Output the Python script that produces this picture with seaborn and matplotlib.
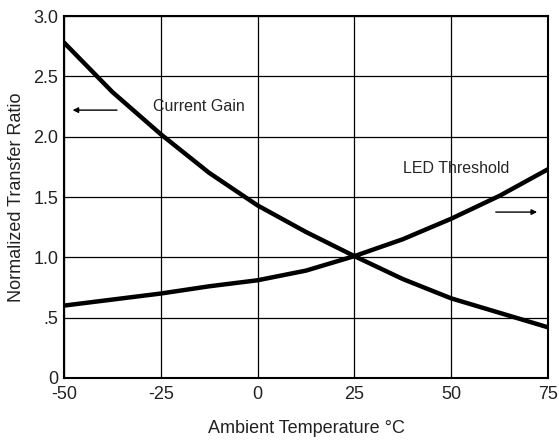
import matplotlib
matplotlib.use("Agg")
import matplotlib.pyplot as plt
import seaborn as sns
import pandas as pd

temps = [-50, -37.5, -25, -12.5, 0, 12.5, 25, 37.5, 50, 62.5, 75]
current_gain = [2.78, 2.37, 2.02, 1.70, 1.43, 1.21, 1.01, 0.82, 0.66, 0.54, 0.42]
led_threshold = [0.60, 0.65, 0.70, 0.76, 0.81, 0.89, 1.01, 1.15, 1.32, 1.51, 1.73]
x_ticks = [-50, -25, 0, 25, 50, 75]
y_ticks = [0, 0.5, 1.0, 1.5, 2.0, 2.5, 3.0]
y_labels = ["0", ".5", "1.0", "1.5", "2.0", "2.5", "3.0"]

sns.set_style("white")
plt.rcParams["font.family"] = ["Liberation Sans", "DejaVu Sans"]

df = pd.DataFrame({
    "temp": temps * 2,
    "ratio": current_gain + led_threshold,
    "series": ["Current Gain"] * len(temps) + ["LED Threshold"] * len(temps),
})

fig = plt.figure(figsize=(5.59, 4.44), dpi=100)
ax = fig.add_axes([64 / 559, 1 - 378 / 444, (548 - 64) / 559, (378 - 16) / 444])

sns.lineplot(data=df, x="temp", y="ratio", hue="series", palette=["black", "black"],
             linewidth=3.2, legend=False, ax=ax, estimator=None)
for ln in ax.get_lines():
    ln.set_solid_joinstyle("round")

ax.set_xlim(-50, 75)
ax.set_ylim(0, 3.0)
ax.set_xticks(x_ticks)
ax.set_xticklabels([str(t) for t in x_ticks], fontsize=13)
ax.set_yticks(y_ticks)
ax.set_yticklabels(y_labels, fontsize=13)
ax.grid(True, color="black", linewidth=0.9)
for s in ax.spines.values():
    s.set_color("black")
    s.set_linewidth(1.5)
ax.tick_params(axis="y", length=0, pad=4, colors="#222222")
ax.tick_params(axis="x", length=0, pad=6, colors="#222222")
ax.set_xlabel("Ambient Temperature °C", fontsize=13, labelpad=12, color="#222222")
ax.set_ylabel("Normalized Transfer Ratio", fontsize=13, labelpad=6, color="#222222")

ax.text(-15.1, 2.25, "Current Gain", fontsize=11.5, ha="center", va="center")
ax.text(51.2, 1.74, "LED Threshold", fontsize=11.5, ha="center", va="center")
ax.annotate("", xy=(-48.5, 2.22), xytext=(-35.6, 2.22),
            arrowprops=dict(arrowstyle="-|>", color="black", lw=1, mutation_scale=8))
ax.annotate("", xy=(72.9, 1.375), xytext=(60.8, 1.375),
            arrowprops=dict(arrowstyle="-|>", color="black", lw=1, mutation_scale=8))

fig.savefig("out.png", dpi=100)
